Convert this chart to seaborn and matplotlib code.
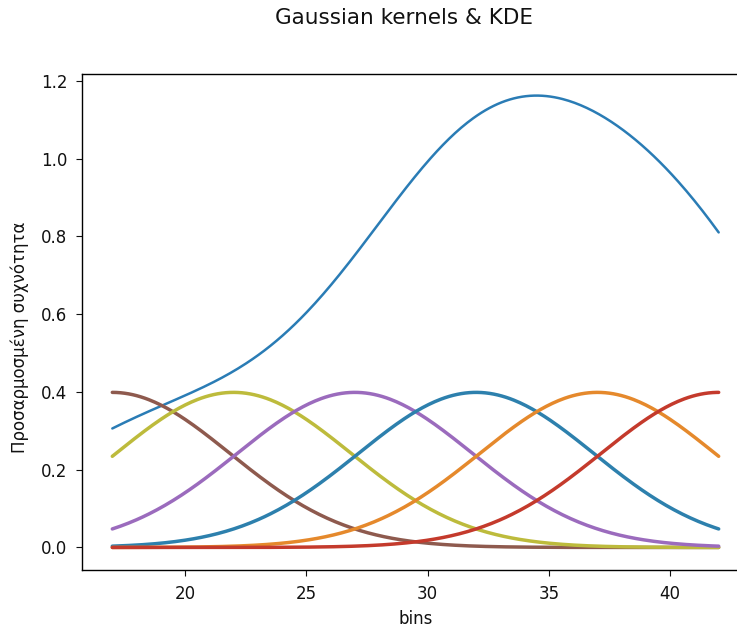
import numpy as np
import pandas as pd
import matplotlib
matplotlib.use("Agg")
import matplotlib.pyplot as plt
import seaborn as sns

# Kernel centres (bin positions), shared bandwidth and per-bin weights of the KDE
centers = [17, 22, 27, 32, 37, 42]
bandwidth = 4.85
bin_weights = [0.487, 0.354, 0.483, 1.710, 1.011, 1.229]
kernel_colors = ["#8e5a4e", "#bdbb3c", "#9b6bbd", "#2d80ad", "#e5892c", "#c43a2c"]
kde_color = "#2a7cb5"

title = "Gaussian kernels & KDE"
xlabel = "bins"
ylabel = "Προσαρμοσμένη συχνότητα"

sns.set_style("ticks")
plt.rcParams["font.family"] = ["DejaVu Sans"]
plt.rcParams.update({"text.color": "#111111", "axes.labelcolor": "#111111",
                     "xtick.color": "#111111", "ytick.color": "#111111"})

x = np.linspace(min(centers), max(centers), 300)


def std_normal(z):
    return np.exp(-0.5 * z ** 2) / np.sqrt(2 * np.pi)


frames = []
kde = np.zeros_like(x)
for c, w in zip(centers, bin_weights):
    k = std_normal((x - c) / bandwidth)
    kde += w * k
    frames.append(pd.DataFrame({"x": x, "y": k, "kernel": f"k{c}"}))
kernels = pd.concat(frames, ignore_index=True)
kde_df = pd.DataFrame({"x": x, "y": kde})

fig = plt.figure(figsize=(7.37, 6.28), dpi=100)
W, H = 737, 628
ax = fig.add_axes([82 / W, (H - 570) / H, (749 - 82) / W, (570 - 74) / H])

sns.lineplot(data=kde_df, x="x", y="y", color=kde_color, linewidth=1.8, ax=ax)
sns.lineplot(data=kernels, x="x", y="y", hue="kernel",
             palette=kernel_colors, linewidth=2.5, ax=ax, legend=False)

ax.set_xlim(15.75, 43.25)
ax.set_ylim(-0.058, 1.218)
ax.set_xticks([20, 25, 30, 35, 40])
ax.set_yticks([0.0, 0.2, 0.4, 0.6, 0.8, 1.0, 1.2])
ax.set_xlabel(xlabel, fontsize=12, labelpad=5)
ax.set_ylabel(ylabel, fontsize=12)
ax.yaxis.set_label_coords(-0.079, 0.47)
ax.tick_params(labelsize=12, length=4.5, pad=6)
for s in ax.spines.values():
    s.set_linewidth(1.0)
    s.set_color("black")
fig.suptitle(title, x=404 / W, y=1 - 18 / H, va="center", fontsize=15.5)

fig.savefig("out.png", dpi=100)
